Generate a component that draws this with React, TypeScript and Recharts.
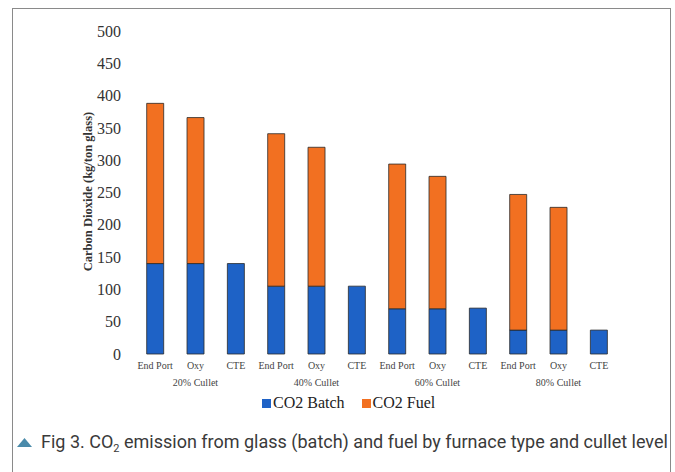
import React from "react";
import { BarChart, Bar, XAxis, YAxis, Legend } from "recharts";

const furnaces = ["End Port", "Oxy", "CTE"];
const cullets = ["20% Cullet", "40% Cullet", "60% Cullet", "80% Cullet"];
const batchValues = [140, 140, 140, 105, 105, 105, 70, 70, 71, 37, 37, 37];
const fuelValues: (number | null)[] = [248, 226, null, 236, 215, null, 224, 205, null, 210, 190, null];
const yTicks = [0, 50, 100, 150, 200, 250, 300, 350, 400, 450, 500];

const BLUE = "#1e62c6";
const ORANGE = "#f27021";

const data = cullets.flatMap((c, ci) =>
  furnaces.map((f, fi) => {
    const i = ci * furnaces.length + fi;
    return { id: `${c}-${f}`, furnace: f, cullet: c, batch: batchValues[i], fuel: fuelValues[i] };
  })
);

const serif = "'Liberation Serif', 'Times New Roman', serif";

const YLabel = (props: any) => {
  const vb = props.viewBox || { x: 0, y: 0, width: 0, height: 0 };
  const cx = 88;
  const cy = vb.y + vb.height / 2 - 1;
  return (
    <text
      x={cx}
      y={cy}
      transform={`rotate(-90, ${cx}, ${cy})`}
      textAnchor="middle"
      dominantBaseline="central"
      fontFamily={serif}
      fontWeight="bold"
      fontSize={12.5}
      fill="#333"
    >
      Carbon Dioxide (kg/ton glass)
    </text>
  );
};

const LegendContent = (props: any) => {
  const items = props.payload || [];
  return (
    <div style={{ display: "flex", alignItems: "center", fontFamily: serif, fontSize: 16, color: "#222" }}>
      {items.map((it: any, i: number) => (
        <div key={i} style={{ display: "flex", alignItems: "center", marginRight: i === 0 ? 17 : 0 }}>
          <span style={{ display: "inline-block", width: 9, height: 9, background: it.color, marginRight: 2 }} />
          <span>{it.value}</span>
        </div>
      ))}
    </div>
  );
};

export default function App() {
  return (
    <div style={{ position: "absolute", left: 0, top: 0, width: 675, height: 472, overflow: "hidden", background: "#fff" }}>
      <div
        style={{
          position: "absolute",
          left: 12,
          top: 8,
          width: 657,
          height: 480,
          borderTop: "1.5px solid #8a8a8a",
          borderLeft: "1.5px solid #8a8a8a",
          borderRight: "1.5px solid #8a8a8a",
        }}
      />
      <div style={{ position: "absolute", left: 0, top: 0 }}>
        <BarChart
          width={675}
          height={420}
          data={data}
          margin={{ top: 31, right: 56, bottom: 29, left: 0 }}
          barCategoryGap="29%"
        >
          <XAxis
            dataKey="id"
            height={17}
            interval={0}
            axisLine={false}
            tickLine={false}
            tickFormatter={(_v: any, i: number) => data[i]?.furnace ?? ""}
            tick={{ fontFamily: serif, fontSize: 10, fill: "#444" }}
          />
          <XAxis
            xAxisId="grp"
            dataKey="id"
            height={20}
            interval={0}
            axisLine={false}
            tickLine={false}
            tickFormatter={(_v: any, i: number) => (data[i]?.furnace === "Oxy" ? data[i].cullet : "")}
            tick={{ fontFamily: serif, fontSize: 10, fill: "#444" }}
          />
          <YAxis
            width={135}
            domain={[0, 500]}
            ticks={yTicks}
            interval={0}
            axisLine={false}
            tickLine={false}
            tickSize={6}
            tickMargin={8}
            tick={{ fontFamily: serif, fontSize: 16, fill: "#333" }}
            label={<YLabel />}
          />
          <Legend
            layout="horizontal"
            verticalAlign="middle"
            align="center"
            content={<LegendContent />}
            wrapperStyle={{ top: 394, left: 262, width: "auto", height: 20 }}
          />
          <Bar dataKey="batch" name="CO2 Batch" stackId="a" fill={BLUE} stroke="#2a2a2a" strokeWidth={0.8} isAnimationActive={false} />
          <Bar dataKey="fuel" name="CO2 Fuel" stackId="a" fill={ORANGE} stroke="#2a2a2a" strokeWidth={0.8} isAnimationActive={false} />
        </BarChart>
      </div>
      <div
        style={{
          position: "absolute",
          left: 17,
          top: 432,
          display: "flex",
          alignItems: "center",
          fontFamily: "Roboto, 'Noto Sans', sans-serif",
          fontWeight: 400,
          fontSize: 18,
          lineHeight: "20px",
          color: "#3a3a3a",
          whiteSpace: "nowrap",
        }}
      >
        <svg width={15} height={12} style={{ marginRight: 9 }}>
          <polygon points="0,11 7.5,2 15,11" fill="#4a8aaa" />
        </svg>
        <span>
          Fig 3. CO<sub style={{ fontSize: 11, verticalAlign: -4, lineHeight: 0 }}>2</sub> emission from glass (batch) and fuel by
          furnace type and cullet level
        </span>
      </div>
    </div>
  );
}
